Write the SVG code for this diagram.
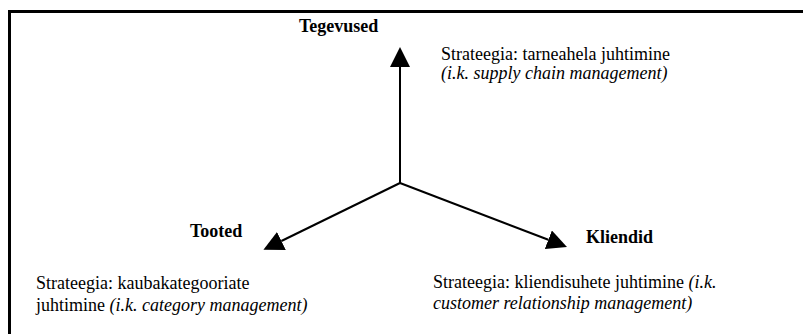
<svg xmlns="http://www.w3.org/2000/svg" width="803" height="334" viewBox="0 0 803 334">
  <style>
    .label { font-family: "Liberation Serif", "Times New Roman", serif; font-size: 18px; fill: #000; }
    .axis { font-weight: bold; }
    .it { font-style: italic; }
    .conn { stroke: #000; stroke-width: 2; fill: none; marker-end: url(#head); }
  </style>
  <defs>
    <marker id="head" markerUnits="userSpaceOnUse" viewBox="0 -10 20 20" markerWidth="20" markerHeight="20" refX="0" refY="0" orient="auto">
      <path d="M0,-10 L20,0 L0,10 Z" fill="#000"/>
    </marker>
  </defs>

  <rect width="803" height="334" fill="#fff"/>

  <!-- open frame: left and top edges -->
  <path d="M9.5,334 V11.5 H803" fill="none" stroke="#000" stroke-width="3"/>

  <!-- axes from the common origin -->
  <g id="connectors">
    <line class="conn" x1="400" y1="183" x2="400" y2="67"/>
    <line class="conn" x1="400" y1="183" x2="281.4" y2="241"/>
    <line class="conn" x1="400" y1="183" x2="548.3" y2="239.8"/>
  </g>

  <g id="tegevused">
    <text class="label axis" x="299" y="32">Tegevused</text>
    <text class="label" x="441" y="59.5">Strateegia: tarneahela juhtimine</text>
    <text class="label it" x="441" y="79">(i.k. supply chain management)</text>
  </g>

  <g id="tooted">
    <text class="label axis" x="190" y="237">Tooted</text>
    <text class="label" x="36" y="289">Strateegia: kaubakategooriate</text>
    <text class="label" x="36" y="311">juhtimine <tspan class="it">(i.k. category management)</tspan></text>
  </g>

  <g id="kliendid">
    <text class="label axis" x="586" y="243">Kliendid</text>
    <text class="label" x="433" y="288">Strateegia: kliendisuhete juhtimine <tspan class="it">(i.k.</tspan></text>
    <text class="label it" x="433" y="309">customer relationship management)</text>
  </g>
</svg>
